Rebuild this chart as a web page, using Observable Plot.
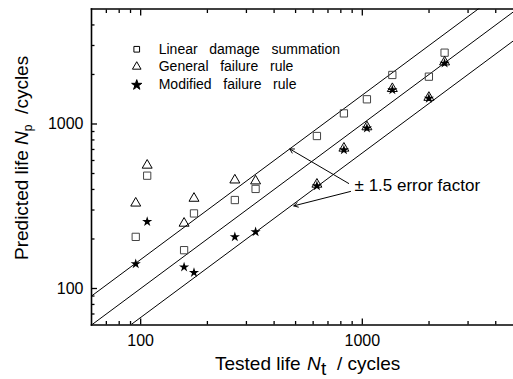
<!DOCTYPE html>
<html><head><meta charset="utf-8">
<script src="https://cdn.jsdelivr.net/npm/d3@7"></script>
<script src="https://cdn.jsdelivr.net/npm/@observablehq/plot@0.6"></script>
<style>
body{margin:0;background:#fff;}
#chart{width:513px;height:379px;overflow:hidden;}
</style></head><body><div id="chart"></div>
<script>
// Data (tested life vs predicted life, cycles)
const testedLife      = [95, 107, 157, 174, 266, 330, 624, 826, 1049, 1366, 1997, 2351];
const linearDamage    = [206, 485, 171, 286, 345, 403, 845, 1160, 1413, 1986, 1939, 2713];
const generalFailure  = [330, 561, 249, 353, 456, 450, 430, 712, 960, 1640, 1450, 2380];
const modifiedFailure = [141, 255, 135, 125, 206, 221, 420, 695, 942, 1609, 1432, 2339];
const seriesNames = ["Linear damage summation", "General failure rule", "Modified failure rule"];
const errorFactors = [1 / 1.5, 1, 1.5];
const xMajorTicks = [100, 1000];
const xMinorTicks = [70, 80, 90, 200, 300, 400, 500, 600, 700, 800, 900, 2000, 3000, 4000];
const yMajorTicks = [100, 1000];
const yMinorTicks = [70, 80, 90, 200, 300, 400, 500, 600, 700, 800, 900, 2000, 3000, 4000];
const annotationText = "\u00b1 1.5 error factor";

const rows = testedLife.map((t, i) => ({t, lin: linearDamage[i], gen: generalFailure[i], mod: modifiedFailure[i]}));
const nb = s => s.replace(/ /g, "\u00a0\u00a0\u00a0");
const legend = [
  {name: seriesNames[0], y: 2846, symbol: "square"},
  {name: seriesNames[1], y: 2230, symbol: "triangle"},
  {name: seriesNames[2], y: 1726, symbol: "star"}
];
const arrows = [
  {x1: 868, y1: 435, x2: 471, y2: 705},
  {x1: 885, y1: 389, x2: 491, y2: 318}
];

const noText = () => "";
const chart = Plot.plot({
  width: 513, height: 379,
  marginLeft: 91, marginRight: 0, marginTop: 8.5, marginBottom: 54.5,
  style: {fontFamily: "'Liberation Sans', Arial, sans-serif", fontSize: "16px", background: "#fff", color: "#000", overflow: "visible"},
  x: {type: "log", domain: [60, 4810], label: null},
  y: {type: "log", domain: [60, 5000], label: null},
  marks: [
    // error-factor lines
    Plot.link(errorFactors, {x1: () => 10, y1: f => 10 * f, x2: () => 20000, y2: f => 20000 * f, stroke: "#000", strokeWidth: 1, clip: true}),
    // inward ticks
    Plot.axisX({anchor: "bottom", ticks: xMajorTicks, tickSize: -6, tickFormat: noText, strokeWidth: 1.3}),
    Plot.axisX({anchor: "bottom", ticks: xMinorTicks, tickSize: -3.5, tickFormat: noText, strokeWidth: 1.3}),
    Plot.axisX({anchor: "top", ticks: xMajorTicks, tickSize: -6, tickFormat: noText, strokeWidth: 1.3}),
    Plot.axisX({anchor: "top", ticks: xMinorTicks, tickSize: -3.5, tickFormat: noText, strokeWidth: 1.3}),
    Plot.axisX({anchor: "bottom", ticks: xMajorTicks, tickSize: 0, tickPadding: 10, tickFormat: d => String(d), fontSize: 16}),
    Plot.axisY({anchor: "left", ticks: yMajorTicks, tickSize: -6, tickFormat: noText, strokeWidth: 1.3}),
    Plot.axisY({anchor: "left", ticks: yMinorTicks, tickSize: -3.5, tickFormat: noText, strokeWidth: 1.3}),
    Plot.axisY({anchor: "left", ticks: yMajorTicks, tickSize: 0, tickPadding: 8, tickFormat: d => String(d), fontSize: 16}),
    Plot.frame({anchor: "left", strokeWidth: 1.6}),
    Plot.frame({anchor: "bottom", strokeWidth: 1.6}),
    Plot.frame({anchor: "top", strokeWidth: 1.6}),
    // data
    Plot.dot(rows, {x: "t", y: "lin", symbol: "square", r: 4.1, stroke: "#444", fill: "none", strokeWidth: 1}),
    Plot.dot(rows, {x: "t", y: "gen", symbol: "triangle", r: 3.7, stroke: "#000", fill: "none", strokeWidth: 1}),
    Plot.dot(rows, {x: "t", y: "mod", symbol: "star", r: 3.2, fill: "#000", stroke: "none"}),
    // legend
    Plot.dot(legend, {x: () => 96, y: "y", symbol: "symbol", r: 3.2, stroke: "#000", fill: d => d.symbol === "star" ? "#000" : "none", strokeWidth: 1}),
    Plot.text(legend, {x: () => 120.6, y: "y", text: d => nb(d.name), textAnchor: "start", fontSize: 14}),
    // annotation
    Plot.arrow(arrows, {x1: "x1", y1: "y1", x2: "x2", y2: "y2", stroke: "#000", strokeWidth: 1, headLength: 7, bend: 0}),
    Plot.text([annotationText], {x: () => 923, y: () => 420, text: d => d, textAnchor: "start", fontSize: 17})
  ]
});
document.getElementById("chart").appendChild(chart);

const svg = d3.select(chart);
const font = "'Liberation Sans', Arial, sans-serif";
const xl = svg.append("text").attr("y", 370).attr("text-anchor", "start")
  .attr("font-family", font).attr("font-size", 19).attr("fill", "#000");
xl.append("tspan").attr("x", 215).text("Tested life");
xl.append("tspan").attr("x", 307).attr("font-style", "italic").text("N");
xl.append("tspan").attr("x", 321).attr("dy", 5).text("t");
xl.append("tspan").attr("x", 337).attr("dy", -5).text("/ cycles");

const yl = svg.append("text").attr("transform", "translate(28,0) rotate(-90)").attr("text-anchor", "start")
  .attr("font-family", font).attr("font-size", 19).attr("fill", "#000").attr("x", -260);
yl.append("tspan").text("Predicted life ");
yl.append("tspan").attr("font-style", "italic").text("N");
yl.append("tspan").attr("dy", 4).attr("font-size", 12).text("p");
yl.append("tspan").attr("dy", -4).text("\u00a0 /cycles");
</script></body></html>
